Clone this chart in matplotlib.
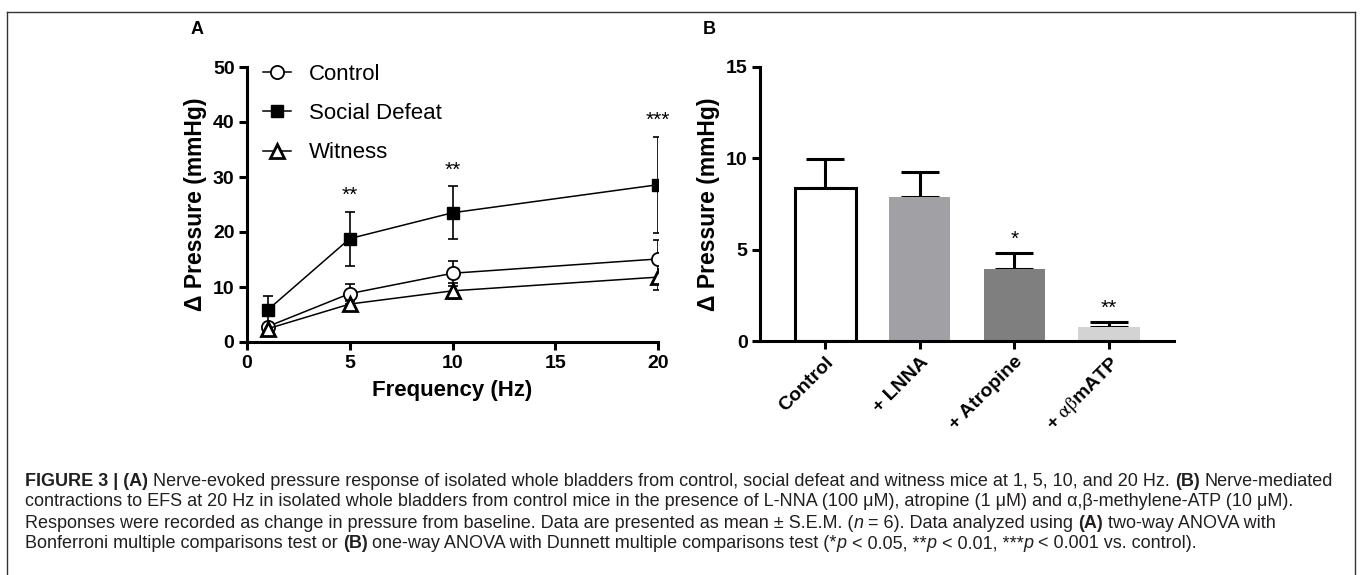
import matplotlib.pyplot as plt
import matplotlib.lines as mlines
import numpy as np

plt.rcParams['font.family'] = ['Liberation Sans', 'DejaVu Sans']
plt.rcParams['mathtext.fontset'] = 'stix'

# Panel A data: frequency response
freq = [1, 5, 10, 20]
control = [2.8, 8.8, 12.5, 15.1]
control_err = [0.5, 1.8, 2.3, 3.4]
defeat = [5.8, 18.8, 23.5, 28.6]
defeat_err = [2.6, 4.9, 4.8, 8.7]
witness = [2.4, 6.9, 9.3, 11.8]
witness_err = [0.5, 0.6, 1.5, 2.3]
stars_a = ['', '**', '**', '***']

# Panel B data: drug response at 20 Hz
drugs = ['Control', '+ LNNA', '+ Atropine', '+ $\\mathrm{\\alpha\\beta}$mATP']
drug_mean = [8.4, 7.9, 3.93, 0.77]
drug_err = [1.55, 1.35, 0.87, 0.28]
drug_colors = ['white', '#a1a1a5', '#7f7f7f', '#d3d3d3']
stars_b = ['', '', '*', '**']

caption = [
    [("FIGURE 3 | (A)", 'bold', 'normal'),
     (" Nerve-evoked pressure response of isolated whole bladders from control, social defeat and witness mice at 1, 5, 10, and 20 Hz. ", 'normal', 'normal'),
     ("(B)", 'bold', 'normal'), (" Nerve-mediated", 'normal', 'normal')],
    [("contractions to EFS at 20 Hz in isolated whole bladders from control mice in the presence of L-NNA (100 \u03bcM), atropine (1 \u03bcM) and \u03b1,\u03b2-methylene-ATP (10 \u03bcM).", 'normal', 'normal')],
    [("Responses were recorded as change in pressure from baseline. Data are presented as mean \u00b1 S.E.M. (", 'normal', 'normal'),
     ("n", 'normal', 'italic'), (" = 6). Data analyzed using ", 'normal', 'normal'),
     ("(A)", 'bold', 'normal'), (" two-way ANOVA with", 'normal', 'normal')],
    [("Bonferroni multiple comparisons test or ", 'normal', 'normal'), ("(B)", 'bold', 'normal'),
     (" one-way ANOVA with Dunnett multiple comparisons test (*", 'normal', 'normal'), ("p", 'normal', 'italic'),
     (" < 0.05, **", 'normal', 'normal'), ("p", 'normal', 'italic'), (" < 0.01, ***", 'normal', 'normal'),
     ("p", 'normal', 'italic'), (" < 0.001 vs. control).", 'normal', 'normal')],
]

W, H = 1360, 575
fig = plt.figure(figsize=(W / 100, H / 100), dpi=100, facecolor='white')


def axes_px(x0, x1, y0, y1):
    return fig.add_axes([x0 / W, 1 - y1 / H, (x1 - x0) / W, (y1 - y0) / H])


def style_axes(ax):
    for s in ['top', 'right']:
        ax.spines[s].set_visible(False)
    for s in ['left', 'bottom']:
        ax.spines[s].set_linewidth(2.2)
    ax.tick_params(width=2.2, length=6, labelsize=14, pad=3)
    for lab in ax.get_xticklabels() + ax.get_yticklabels():
        lab.set_fontweight('bold')


# ---- Panel A
axA = axes_px(247, 658, 67, 342)
for y, e in [(control, control_err), (defeat, defeat_err), (witness, witness_err)]:
    axA.errorbar(freq, y, yerr=e, fmt='none', ecolor='black', elinewidth=1.2,
                 capsize=3.6, capthick=1.2, zorder=2)
axA.plot(freq, control, '-o', color='black', lw=1.1, ms=9.5, mfc='white', mec='black',
         mew=1.3, label='Control', zorder=3)
axA.plot(freq, defeat, '-s', color='black', lw=1.1, ms=8, label='Social Defeat', zorder=3)
axA.plot(freq, witness, '-^', color='black', lw=1.1, ms=9.5, mfc='white', mec='black',
         mew=2, label='Witness', zorder=3)
for f, m, e, s in zip(freq, defeat, defeat_err, stars_a):
    if s:
        axA.annotate(s, (f, m + e), xytext=(0, 5), textcoords='offset points',
                     ha='center', va='bottom', fontsize=15)
axA.set_xlim(0, 20)
axA.set_ylim(0, 50)
axA.set_xticks([0, 5, 10, 15, 20])
axA.set_yticks([0, 10, 20, 30, 40, 50])
axA.set_xlabel('Frequency (Hz)', fontsize=16, fontweight='bold', labelpad=6)
axA.set_ylabel('\u0394 Pressure (mmHg)', fontsize=16.5, fontweight='bold', labelpad=4)
style_axes(axA)
axA.legend(loc='upper left', bbox_to_anchor=(263 / W, 1 - 64 / H), bbox_transform=fig.transFigure,
           frameon=False, fontsize=16, borderpad=0, borderaxespad=0, handlelength=1.26,
           handletextpad=0.8, labelspacing=0.82)

# ---- Panel B
axB = axes_px(760, 1174, 67, 341)
xb = np.arange(len(drugs))
axB.bar(xb, drug_mean, width=0.65, color=drug_colors,
        edgecolor=['black', 'none', 'none', 'none'], linewidth=2.2, zorder=2)
axB.errorbar(xb, drug_mean, yerr=[np.zeros(len(drug_err)), drug_err], fmt='none',
             ecolor='black', elinewidth=2.2, capsize=14, capthick=2.2, zorder=1)
for x, m, e, s in zip(xb, drug_mean, drug_err, stars_b):
    if s:
        axB.annotate(s, (x, m + e), xytext=(0, 3), textcoords='offset points',
                     ha='center', va='bottom', fontsize=15)
axB.set_xlim(-0.69, 3.69)
axB.set_ylim(0, 15)
axB.set_yticks([0, 5, 10, 15])
axB.set_xticks(xb)
axB.set_xticklabels(drugs, rotation=45, ha='right', rotation_mode='anchor')
axB.set_ylabel('\u0394 Pressure (mmHg)', fontsize=16.5, fontweight='bold', labelpad=4)
style_axes(axB)

# panel letters
fig.text(191 / W, 1 - 30 / H, 'A', fontsize=13, fontweight='bold', va='center')
fig.text(703 / W, 1 - 30 / H, 'B', fontsize=13, fontweight='bold', va='center')

# frame around the figure
fc = '#333333'
for xs, ys in [([7, 7], [12, 580]), ([7, 1355], [12, 12]), ([1355, 1355], [12, 580])]:
    fig.add_artist(mlines.Line2D([x / W for x in xs], [1 - y / H for y in ys],
                                 color=fc, lw=1.0, transform=fig.transFigure))

# ---- Caption: runs of mixed weight/style
renderer = fig.canvas.get_renderer()


def space_width(size):
    a = fig.text(0, 0, 'a a', fontsize=size)
    b = fig.text(0, 0, 'aa', fontsize=size)
    w = a.get_window_extent(renderer).width - b.get_window_extent(renderer).width
    a.remove()
    b.remove()
    return w


def draw_line(runs, x0, y, size, draw=True):
    x = x0
    made = []
    sp = space_width(size)
    for txt, weight, style in runs:
        core = txt.strip(' ')
        lead = len(txt) - len(txt.lstrip(' '))
        trail = len(txt) - len(txt.rstrip(' '))
        x += lead * sp
        t = fig.text(x / W, 1 - y / H, core, fontsize=size, fontweight=weight,
                     fontstyle=style, color='#231f20', va='center', ha='left')
        made.append(t)
        x = t.get_window_extent(renderer).x1 + trail * sp
    if not draw:
        for t in made:
            t.remove()
    return x


x_start, x_end = 25, 1338
end = draw_line(caption[0], x_start, 0, 10, draw=False)
cap_size = 10 * (x_end - x_start) / (end - x_start)
for i, runs in enumerate(caption):
    draw_line(runs, x_start, 481 + 21 * i, cap_size)

fig.savefig('out.png', dpi=100, facecolor='white')
